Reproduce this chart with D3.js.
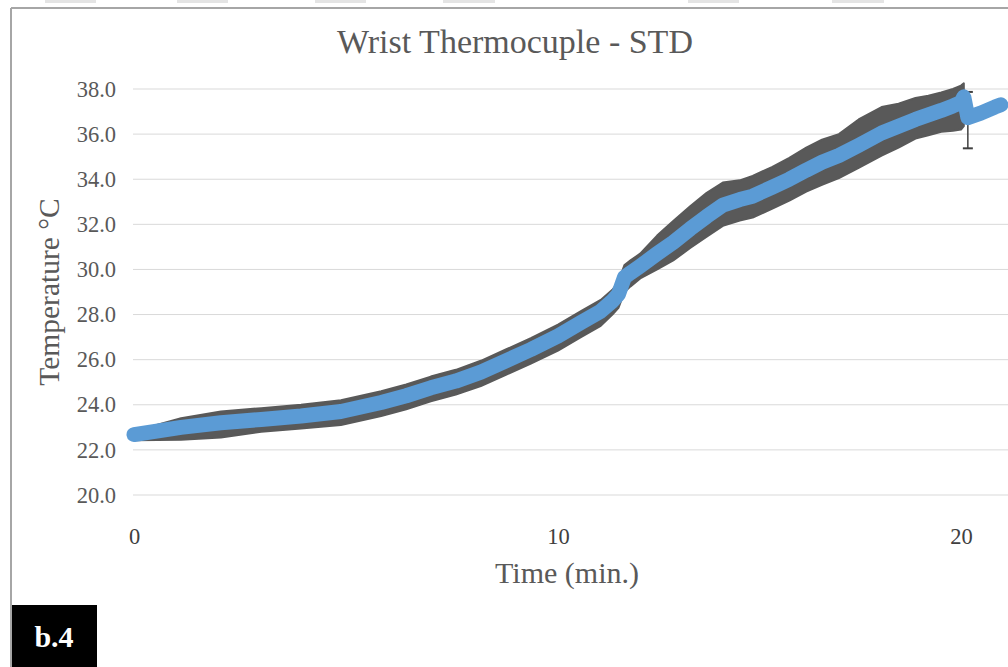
<!DOCTYPE html>
<html>
<head>
<meta charset="utf-8">
<script src="https://cdn.jsdelivr.net/npm/d3@7"></script>
<style>
  html, body { margin: 0; padding: 0; background: #fff; }
  svg { display: block; }
  text { font-family: "Liberation Serif", "Times New Roman", serif; }
</style>
</head>
<body>
<script>
// ---- Data ----
const timeMin = [0, 1.11, 2.05, 3.0, 3.94, 4.88, 5.83, 6.42, 7.0, 7.59, 8.18, 8.77, 9.36, 10.0,
  10.57, 11.06, 11.35, 11.50, 11.65, 11.80, 12.04, 12.46, 12.86, 13.28, 13.69, 14.09, 14.51,
  14.83, 15.32, 15.74, 16.16, 16.55, 16.97, 17.46, 18.03, 18.45, 18.87, 19.19, 19.51, 19.80,
  20.0, 20.07, 20.17, 20.49, 20.84, 20.99];
const meanTemp = [22.68, 23.0, 23.2, 23.35, 23.5, 23.7, 24.1, 24.4, 24.75, 25.05, 25.45, 25.95,
  26.45, 27.05, 27.65, 28.15, 28.6, 28.9, 29.65, 29.85, 30.15, 30.7, 31.2, 31.8, 32.35, 32.85,
  33.1, 33.25, 33.65, 34.0, 34.4, 34.75, 35.05, 35.5, 36.05, 36.35, 36.65, 36.85, 37.05, 37.25,
  37.4, 37.65, 36.73, 36.93, 37.2, 37.3];
// standard deviation above / below the mean (null = no band drawn)
const stdUp = [0.15, 0.4, 0.5, 0.5, 0.5, 0.5, 0.5, 0.5, 0.5, 0.5, 0.5, 0.5, 0.5, 0.5, 0.5, 0.5,
  0.5, 0.55, 0.55, 0.55, 0.55, 0.8, 0.95, 1.0, 1.05, 1.0, 0.85, 0.9, 0.9, 0.95, 1.0, 1.0, 0.95,
  1.15, 1.15, 1.0, 0.95, 0.85, 0.8, 0.75, 0.75, 0.6, null, null, null, null];
const stdDown = [0.25, 0.55, 0.65, 0.55, 0.55, 0.6, 0.6, 0.6, 0.6, 0.6, 0.62, 0.62, 0.62, 0.65,
  0.65, 0.65, 0.6, 0.6, 0.65, 0.6, 0.55, 0.7, 0.8, 0.85, 0.9, 0.92, 0.93, 0.95, 0.95, 0.95, 0.95,
  1.0, 1.0, 1.0, 1.0, 0.95, 0.85, 0.9, 0.95, 1.1, 1.2, 1.3, null, null, null, null];
// single error bar on the last segment
const errTime = [20.17];
const errMean = [36.62];
const errStd = [1.25];

const xTicks = [0, 10, 20];
const yTicks = [20, 22, 24, 26, 28, 30, 32, 34, 36, 38];
const titleText = "Wrist Thermocuple - STD";
const xTitle = "Time (min.)";
const yTitle = "Temperature \u00B0C";
const panelLabel = "b.4";

// ---- Layout ----
const W = 1008, H = 667;
const svg = d3.select("body").append("svg").attr("width", W).attr("height", H);

const x = d3.scaleLinear().domain([0, 10, 20]).range([134, 558, 961]);
const y = d3.scaleLinear().domain([20, 38]).range([495, 89]);

// decorative top strip tabs
const tabs = [[45, 96], [177, 228], [315, 366], [443, 495], [688, 739], [832, 884]];
svg.selectAll("rect.tab").data(tabs).enter().append("rect")
  .attr("x", d => d[0]).attr("y", 0).attr("width", d => d[1] - d[0]).attr("height", 3)
  .attr("fill", "#e4e4e4");

// chart frame
svg.append("line").attr("x1", 11).attr("x2", W).attr("y1", 8).attr("y2", 8)
  .attr("stroke", "#a6a6a6").attr("stroke-width", 2);
svg.append("line").attr("x1", 11).attr("x2", 11).attr("y1", 8).attr("y2", H)
  .attr("stroke", "#a6a6a6").attr("stroke-width", 2);

// title
svg.append("text").attr("x", 515).attr("y", 53).attr("text-anchor", "middle")
  .attr("font-size", 34).attr("fill", "#595959").text(titleText);

// gridlines
svg.append("g").selectAll("line").data(yTicks).enter().append("line")
  .attr("x1", 133).attr("x2", W).attr("y1", d => y(d)).attr("y2", d => y(d))
  .attr("stroke", "#d9d9d9").attr("stroke-width", 1);

// y axis
const yAxis = svg.append("g").attr("transform", "translate(124,0)")
  .call(d3.axisLeft(y).tickValues(yTicks).tickFormat(d3.format(".1f")).tickSize(0).tickPadding(8));
yAxis.select(".domain").remove();
yAxis.selectAll("text").attr("font-family", "Liberation Serif, serif").attr("font-size", 22.5)
  .attr("fill", "#595959");

// x axis
const xAxis = svg.append("g").attr("transform", "translate(0,520)")
  .call(d3.axisBottom(x).tickValues(xTicks).tickFormat(d3.format("d")).tickSize(0).tickPadding(8));
xAxis.select(".domain").remove();
xAxis.selectAll("text").attr("font-family", "Liberation Serif, serif").attr("font-size", 22.5)
  .attr("fill", "#404040");

// axis titles
svg.append("text").attr("x", 567).attr("y", 583).attr("text-anchor", "middle")
  .attr("font-size", 30).attr("fill", "#595959").text(xTitle);
svg.append("text").attr("transform", "translate(59,292) rotate(-90)").attr("text-anchor", "middle")
  .attr("font-size", 29.5).attr("fill", "#595959").text(yTitle);

// data
const pts = timeMin.map((t, i) => ({ t, m: meanTemp[i], up: stdUp[i], dn: stdDown[i] }));

// std band
const area = d3.area()
  .defined(d => d.up !== null)
  .x(d => x(d.t))
  .y0(d => y(d.m - d.dn))
  .y1(d => y(d.m + d.up));
svg.append("path").datum(pts).attr("d", area).attr("fill", "#595959")
  .attr("stroke", "#595959").attr("stroke-width", 2).attr("stroke-linejoin", "round");

// error bar
const eb = svg.append("g");
errTime.forEach((t, i) => {
  const cx = x(t);
  eb.append("line").attr("x1", cx).attr("x2", cx)
    .attr("y1", y(errMean[i] + errStd[i])).attr("y2", y(errMean[i] - errStd[i]))
    .attr("stroke", "#404040").attr("stroke-width", 1.5);
  [errMean[i] + errStd[i], errMean[i] - errStd[i]].forEach(v => {
    eb.append("line").attr("x1", cx - 5).attr("x2", cx + 5).attr("y1", y(v)).attr("y2", y(v))
      .attr("stroke", "#404040").attr("stroke-width", 2);
  });
});

// mean line
const line = d3.line().x(d => x(d.t)).y(d => y(d.m));
svg.append("path").datum(pts).attr("d", line).attr("fill", "none")
  .attr("stroke", "#5b9bd5").attr("stroke-width", 15)
  .attr("stroke-linecap", "round").attr("stroke-linejoin", "round");

// panel label
svg.append("rect").attr("x", 12).attr("y", 605).attr("width", 85).attr("height", H - 605)
  .attr("fill", "#000");
svg.append("text").attr("x", 54).attr("y", 647).attr("text-anchor", "middle")
  .attr("font-size", 30).attr("font-weight", "bold").attr("fill", "#fff").text(panelLabel);
</script>
</body>
</html>
